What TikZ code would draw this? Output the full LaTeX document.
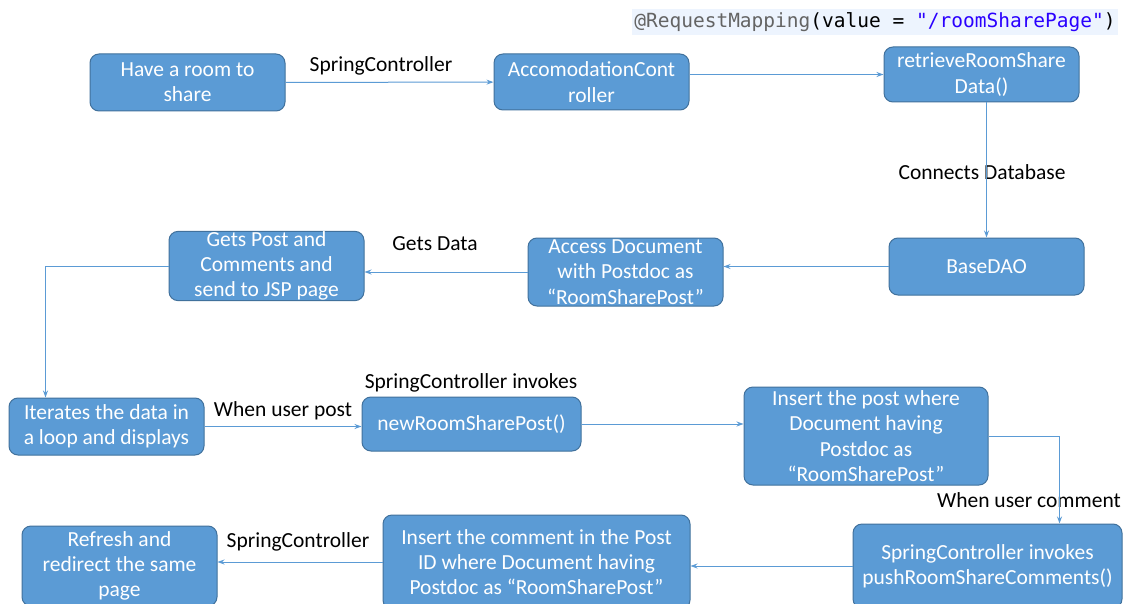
\documentclass[tikz,border=0pt]{standalone}
\usepackage{fontspec}
\setmainfont{Carlito}
\newfontfamily\codefont{DejaVu Sans Mono}
\usetikzlibrary{arrows.meta}
\definecolor{boxfill}{HTML}{5B9BD5}
\definecolor{boxdraw}{HTML}{41719C}
\definecolor{linkc}{HTML}{5B9BD5}
\definecolor{codebg}{HTML}{EDF4FE}
\definecolor{codegray}{HTML}{646464}
\definecolor{codeblue}{HTML}{2A00FF}
\begin{document}
\begin{tikzpicture}[x=1pt,y=-1pt,
  box/.style={draw=boxdraw, fill=boxfill, rounded corners=9pt, text=white, align=center,
    font=\fontsize{21.5}{25.3}\selectfont, inner sep=0pt, line width=1pt},
  lbl/.style={font=\fontsize{21.5}{25}\selectfont, text=black, inner sep=0pt},
  linkarrow/.style={draw=linkc, line width=1pt, -{Stealth[length=7pt,width=5pt]}}]
\clip (0,0) rectangle (1123,604);
\fill[white] (0,0) rectangle (1123,604);
% code annotation
\node[fill=codebg, inner xsep=2pt, inner ysep=3pt, font=\codefont\fontsize{19.5}{22}\selectfont] (code) at (875,22)
  {\textcolor{codegray}{@RequestMapping}(value = \textcolor{codeblue}{"/roomSharePage"})};
% boxes
\node[box, minimum width=195pt, minimum height=57pt] (b1) at (187.5,82.5) {Have a room to\\share};
\node[box, minimum width=195pt, minimum height=56pt] (b2) at (591.5,82) {AccomodationCont\\roller};
\node[box, minimum width=195pt, minimum height=55pt] (b3) at (981.5,74.5) {retrieveRoomShare\\Data()};
\node[box, minimum width=195pt, minimum height=57pt] (b4) at (986.5,266.5) {BaseDAO};
\node[box, minimum width=195pt, minimum height=68pt] (b5) at (625.5,272) {Access Document\\with Postdoc as\\“RoomSharePost”};
\node[box, minimum width=195pt, minimum height=68pt] (b6) at (266.5,266) {Gets Post and\\Comments and\\send to JSP page};
\node[box, minimum width=195pt, minimum height=57pt] (b7) at (106.5,426.5) {Iterates the data in\\a loop and displays};
\node[box, minimum width=219pt, minimum height=54pt] (b8) at (471.5,424) {newRoomSharePost()};
\node[box, minimum width=244pt, minimum height=98pt] (b9) at (866,436) {Insert the post where\\Document having\\Postdoc as\\“RoomSharePost”};
\node[box, minimum width=269pt, minimum height=84pt] (b10) at (987.5,566) {SpringController invokes\\pushRoomShareComments()};
\node[box, minimum width=307pt, minimum height=94pt] (b11) at (536.5,562) {Insert the comment in the Post\\ID where Document having\\Postdoc as “RoomSharePost”};
\node[box, minimum width=195pt, minimum height=80pt] (b12) at (119.5,566) {Refresh and\\redirect the same\\page};
% labels
\node[lbl] (l1) at (381,66) {SpringController};
\node[lbl] (l2) at (982,172) {Connects Database};
\node[lbl] (l3) at (435,244) {Gets Data};
\node[lbl] (l4) at (283,411) {When user post};
\node[lbl] (l5) at (471,383) {SpringController invokes};
\node[lbl] (l6) at (1029,500) {When user comment};
\node[lbl] (l7) at (298,542) {SpringController};
% connectors
\draw[linkarrow] (b1) -- (b2);
\draw[linkarrow] (b3.west -| b2.east) -- (b3.west);
\draw[linkarrow] (b3.south -| b4.north) -- (b4.north);
\draw[linkarrow] (b4.west) -- (b4.west -| b5.east);
\draw[linkarrow] (b5.west) -- (b5.west -| b6.east);
\draw[linkarrow] (b6.west) -| ([xshift=37pt]b7.north west);
\draw[linkarrow] (b7.east) -- (b7.east -| b8.west);
\draw[linkarrow] (b8.east) -- (b8.east -| b9.west);
\draw[linkarrow] (b9.east) -| ([xshift=207pt]b10.north west);
\draw[linkarrow] (b10.west) -- (b10.west -| b11.east);
\draw[linkarrow] (b11.west) -- (b11.west -| b12.east);
\end{tikzpicture}
\end{document}
